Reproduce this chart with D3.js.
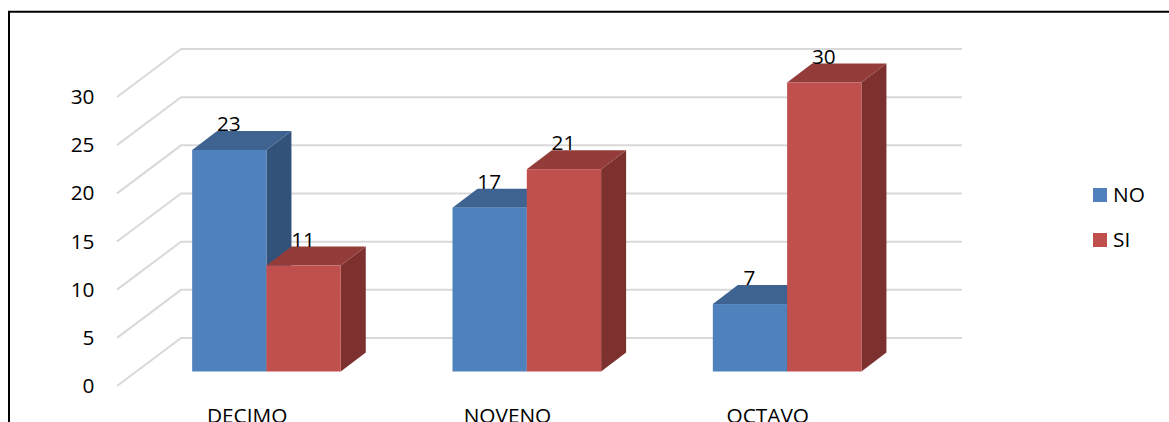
<!DOCTYPE html>
<html><head><meta charset="utf-8">
<style>html,body{margin:0;padding:0;background:#fff}svg{display:block}text{font-family:"Open Sans",sans-serif;fill:#000}</style>
<script src="https://cdn.jsdelivr.net/npm/d3@7"></script>
</head><body><svg id="c" width="1169" height="422"></svg>
<script>
const categories = ["DECIMO", "NOVENO", "OCTAVO"];
const seriesNames = ["NO", "SI"];
const noValues = [23, 17, 7];
const siValues = [11, 21, 30];
const tickValues = [0, 5, 10, 15, 20, 25, 30];
const faceColors = {NO: {front: "#4F81BD", top: "#3E6390", side: "#32527A"},
                    SI: {front: "#C0504D", top: "#933C3A", side: "#7D312F"}};
const svg = d3.select("#c");
const depth = {dx: 64, dy: -48};       // floor depth of the 3D box
const barDepth = {dx: 25, dy: -19};    // depth of each bar
const inset = {dx: 19.3, dy: -14.5};   // bars sit this far behind the front edge
const fontSize = 20.8;

const x = d3.scaleBand().domain(categories).range([117, 898]);
const y = d3.scaleLinear().domain([0, 30]).range([386, 97]);
const inner = d3.scaleBand().domain(seriesNames).range([-74.3, 74.3]);

// frame
svg.append("path").attr("d", "M9,422V11.8H1169").attr("fill", "none").attr("stroke", "#000").attr("stroke-width", 2);

// gridlines
const grid = svg.append("g").attr("fill", "none").attr("stroke", "#d9d9d9").attr("stroke-width", 2);
tickValues.forEach(t => {
  const yy = y(t);
  grid.append("path").attr("d", `M117,${yy}L${117 + depth.dx},${yy + depth.dy}H${898 + depth.dx}`);
});

// y axis labels
svg.append("g").selectAll("text").data(tickValues).join("text")
  .attr("x", 94.5).attr("y", d => y(d) + 7).attr("text-anchor", "end").attr("font-size", fontSize).text(d => d);

// bars
const rows = categories.map((c, i) => [
  {c, s: "NO", v: noValues[i]},
  {c, s: "SI", v: siValues[i]}
]);
const base = y(0) + inset.dy;
rows.forEach(pair => pair.forEach(d => {
  const x0 = x(d.c) + x.bandwidth() / 2 + inset.dx + inner(d.s);
  const x1 = x0 + inner.bandwidth();
  const top = y(d.v) + inset.dy;
  const col = faceColors[d.s];
  const g = svg.append("g");
  g.append("path").attr("fill", col.side)
    .attr("d", `M${x1},${top}l${barDepth.dx},${barDepth.dy}V${base + barDepth.dy}L${x1},${base}Z`);
  g.append("path").attr("fill", col.top)
    .attr("d", `M${x0},${top}l${barDepth.dx},${barDepth.dy}H${x1 + barDepth.dx}L${x1},${top}Z`);
  g.append("rect").attr("fill", col.front).attr("x", x0).attr("y", top).attr("width", x1 - x0).attr("height", base - top);
}));

// data labels
rows.forEach(pair => pair.forEach(d => {
  const x0 = x(d.c) + x.bandwidth() / 2 + inset.dx + inner(d.s);
  svg.append("text").attr("x", x0 + inner.bandwidth() / 2 - 0.5).attr("y", y(d.v) + inset.dy - 19)
    .attr("text-anchor", "middle").attr("font-size", fontSize).text(d.v);
}));

// category labels
svg.append("g").selectAll("text").data(categories).join("text")
  .attr("x", d => x(d) + x.bandwidth() / 2).attr("y", 423).attr("text-anchor", "middle")
  .attr("font-size", fontSize).text(d => d);

// legend
const legend = svg.append("g").selectAll("g").data(seriesNames).join("g")
  .attr("transform", (d, i) => `translate(1093,${188 + i * 45})`);
legend.append("rect").attr("width", 14).attr("height", 14).attr("fill", d => faceColors[d].front);
legend.append("text").attr("x", 20).attr("y", 14).attr("font-size", fontSize).text(d => d);
</script></body></html>
